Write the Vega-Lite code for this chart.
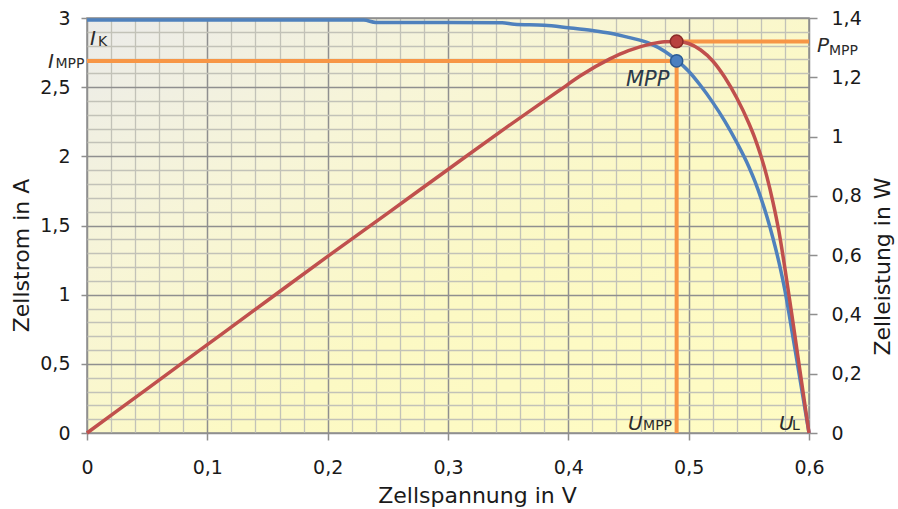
{
  "$schema": "https://vega.github.io/schema/vega-lite/v6.json",
  "width": 722,
  "height": 415,
  "autosize": "none",
  "padding": {"left": 87, "top": 18, "right": 89, "bottom": 76},
  "background": "white",
  "view": {
    "fill": {"gradient": "linear", "x1": 0, "y1": 0, "x2": 1, "y2": 1,
      "stops": [
        {"offset": 0, "color": "#ebebea"},
        {"offset": 0.3, "color": "#f7f5d8"},
        {"offset": 0.6, "color": "#fcf9c4"},
        {"offset": 1, "color": "#fffcc4"}
      ]},
    "stroke": "#8f8f8f",
    "strokeWidth": 1.5
  },
  "datasets": {
    "current": [
      {"u": 0, "i": 2.985}, {"u": 0.1, "i": 2.985}, {"u": 0.2, "i": 2.985}, {"u": 0.23, "i": 2.985},
      {"u": 0.24, "i": 2.968}, {"u": 0.3, "i": 2.968}, {"u": 0.345, "i": 2.966}, {"u": 0.355, "i": 2.955},
      {"u": 0.38, "i": 2.948}, {"u": 0.4, "i": 2.93}, {"u": 0.42, "i": 2.91}, {"u": 0.435, "i": 2.89},
      {"u": 0.45, "i": 2.86}, {"u": 0.468, "i": 2.815}, {"u": 0.48, "i": 2.76}, {"u": 0.49, "i": 2.695},
      {"u": 0.5, "i": 2.615}, {"u": 0.51, "i": 2.51}, {"u": 0.52, "i": 2.39}, {"u": 0.53, "i": 2.255},
      {"u": 0.54, "i": 2.1}, {"u": 0.55, "i": 1.925}, {"u": 0.555, "i": 1.82},
      {"u": 0.56, "i": 1.7}, {"u": 0.565, "i": 1.565}, {"u": 0.57, "i": 1.41}, {"u": 0.575, "i": 1.235},
      {"u": 0.58, "i": 1.03}, {"u": 0.585, "i": 0.78}, {"u": 0.59, "i": 0.52}, {"u": 0.595, "i": 0.26},
      {"u": 0.6, "i": 0}
    ],
    "power": [
      {"u": 0, "p": 0}, {"u": 0.05, "p": 0.149}, {"u": 0.1, "p": 0.298}, {"u": 0.15, "p": 0.447},
      {"u": 0.2, "p": 0.596}, {"u": 0.25, "p": 0.742}, {"u": 0.3, "p": 0.889}, {"u": 0.35, "p": 1.035},
      {"u": 0.393, "p": 1.157}, {"u": 0.41, "p": 1.205}, {"u": 0.4345, "p": 1.262}, {"u": 0.45, "p": 1.29},
      {"u": 0.468, "p": 1.312}, {"u": 0.48, "p": 1.32}, {"u": 0.49, "p": 1.321}, {"u": 0.5, "p": 1.314},
      {"u": 0.51, "p": 1.292}, {"u": 0.52, "p": 1.255}, {"u": 0.53, "p": 1.2}, {"u": 0.54, "p": 1.13},
      {"u": 0.55, "p": 1.045}, {"u": 0.555, "p": 0.995}, {"u": 0.56, "p": 0.935}, {"u": 0.565, "p": 0.865},
      {"u": 0.57, "p": 0.78}, {"u": 0.575, "p": 0.68}, {"u": 0.58, "p": 0.555}, {"u": 0.585, "p": 0.42},
      {"u": 0.59, "p": 0.28}, {"u": 0.595, "p": 0.14}, {"u": 0.6, "p": 0}
    ],
    "mpp": [{"u": 0.49, "i": 2.69, "p": 1.321, "zero": 0, "umax": 0.6}],
    "labels": [
      {"t": "I", "kind": "main", "u": 0.0025, "i": 2.805},
      {"t": "K", "kind": "sub", "u": 0.0091, "i": 2.798},
      {"t": "I", "kind": "main", "u": -0.0324, "i": 2.639},
      {"t": "MPP", "kind": "sub", "u": -0.0262, "i": 2.639},
      {"t": "P", "kind": "main", "u": 0.6067, "i": 2.754},
      {"t": "MPP", "kind": "sub", "u": 0.6166, "i": 2.733},
      {"t": "MPP", "kind": "big", "u": 0.4479, "i": 2.508},
      {"t": "U", "kind": "main", "u": 0.4496, "i": 0.0217},
      {"t": "MPP", "kind": "sub", "u": 0.4621, "i": 0.0217},
      {"t": "U", "kind": "main", "u": 0.5751, "i": 0.0217},
      {"t": "L", "kind": "sub", "u": 0.5859, "i": 0.0217}
    ]
  },
  "encoding": {
    "x": {"field": "u", "type": "quantitative", "scale": {"domain": [0, 0.6], "nice": false},
      "title": "Zellspannung in V",
      "axis": {
        "values": [0,0.02,0.04,0.06,0.08,0.1,0.12,0.14,0.16,0.18,0.2,0.22,0.24,0.26,0.28,0.3,0.32,0.34,0.36,0.38,0.4,0.42,0.44,0.46,0.48,0.5,0.52,0.54,0.56,0.58,0.6],
        "labelExpr": "abs(datum.value*10 - round(datum.value*10)) < 0.001 ? replace(format(datum.value, '.1~f'), '.', ',') : ''",
        "gridColor": {"condition": {"test": "abs(datum.value*10 - round(datum.value*10)) < 0.001", "value": "#8f8f8f"}, "value": "#c2c2b8"},
        "gridWidth": {"condition": {"test": "abs(datum.value*10 - round(datum.value*10)) < 0.001", "value": 1.5}, "value": 1.3},
        "tickOpacity": {"condition": {"test": "abs(datum.value*10 - round(datum.value*10)) < 0.001", "value": 1}, "value": 0},
        "grid": true,
        "tickSize": 7,
        "labelPadding": 18,
        "titlePadding": 8,
        "titleX": 390
      }}
  },
  "layer": [
    {
      "encoding": {
        "y": {"field": "i", "type": "quantitative", "scale": {"domain": [0, 3], "nice": false},
          "title": "Zellstrom in A",
          "axis": {
            "orient": "left",
            "values": [0,0.1,0.2,0.3,0.4,0.5,0.6,0.7,0.8,0.9,1,1.1,1.2,1.3,1.4,1.5,1.6,1.7,1.8,1.9,2,2.1,2.2,2.3,2.4,2.5,2.6,2.7,2.8,2.9,3],
            "labelExpr": "abs(datum.value*2 - round(datum.value*2)) < 0.001 ? replace(format(datum.value, '.1~f'), '.', ',') : ''",
            "gridColor": {"condition": {"test": "abs(datum.value*2 - round(datum.value*2)) < 0.001", "value": "#8f8f8f"}, "value": "#c2c2b8"},
            "gridWidth": {"condition": {"test": "abs(datum.value*2 - round(datum.value*2)) < 0.001", "value": 1.5}, "value": 1.3},
            "tickOpacity": {"condition": {"test": "abs(datum.value*2 - round(datum.value*2)) < 0.001", "value": 1}, "value": 0},
            "grid": true,
            "tickSize": 6,
            "labelPadding": 11,
            "titlePadding": 6,
            "titleY": 237
          }}
      },
      "layer": [
        {
          "data": {"name": "mpp"},
          "mark": {"type": "rule", "color": "#f79646", "strokeWidth": 4},
          "encoding": {"x2": {"field": "zero"}}
        },
        {
          "data": {"name": "mpp"},
          "mark": {"type": "rule", "color": "#f79646", "strokeWidth": 4},
          "encoding": {"y2": {"field": "zero"}}
        },
        {
          "data": {"name": "current"},
          "mark": {"type": "line", "color": "#4f81bd", "strokeWidth": 3.5, "interpolate": "monotone"},
          "encoding": {}
        },
        {
          "data": {"name": "mpp"},
          "mark": {"type": "point", "shape": "circle", "filled": true, "size": 150, "color": "#4a7fc0", "stroke": "#2b5b94", "strokeWidth": 1.5, "opacity": 1},
          "encoding": {}
        },
        {
          "data": {"name": "labels"},
          "transform": [{"filter": "datum.kind == 'main'"}],
          "mark": {"type": "text", "align": "left", "baseline": "alphabetic", "font": "DejaVu Sans", "fontStyle": "italic", "fontSize": 20, "color": "#2b2b2b"},
          "encoding": {"text": {"field": "t", "type": "nominal"}}
        },
        {
          "data": {"name": "labels"},
          "transform": [{"filter": "datum.kind == 'sub'"}],
          "mark": {"type": "text", "align": "left", "baseline": "alphabetic", "font": "DejaVu Sans", "fontSize": 14, "color": "#2b2b2b"},
          "encoding": {"text": {"field": "t", "type": "nominal"}}
        },
        {
          "data": {"name": "labels"},
          "transform": [{"filter": "datum.kind == 'big'"}],
          "mark": {"type": "text", "align": "left", "baseline": "alphabetic", "font": "DejaVu Sans", "fontStyle": "italic", "fontSize": 21, "color": "#2b3a4a"},
          "encoding": {"text": {"field": "t", "type": "nominal"}}
        }
      ]
    },
    {
      "encoding": {
        "y": {"field": "p", "type": "quantitative", "scale": {"domain": [0, 1.4], "nice": false},
          "title": "Zelleistung in W",
          "axis": {
            "orient": "right",
            "values": [0, 0.2, 0.4, 0.6, 0.8, 1, 1.2, 1.4],
            "labelExpr": "replace(format(datum.value, '.1~f'), '.', ',')",
            "grid": false,
            "tickSize": 8,
            "labelPadding": 14,
            "titlePadding": 11,
            "titleAngle": 270,
            "titleBaseline": "top",
            "titleY": 248
          }}
      },
      "layer": [
        {
          "data": {"name": "mpp"},
          "mark": {"type": "rule", "color": "#f79646", "strokeWidth": 4},
          "encoding": {"x2": {"field": "umax"}}
        },
        {
          "data": {"name": "power"},
          "mark": {"type": "line", "color": "#c0504d", "strokeWidth": 3.5, "interpolate": "monotone"},
          "encoding": {}
        },
        {
          "data": {"name": "mpp"},
          "mark": {"type": "point", "shape": "circle", "filled": true, "size": 160, "color": "#b8413e", "stroke": "#8a2a28", "strokeWidth": 1.5, "opacity": 1},
          "encoding": {}
        }
      ]
    }
  ],
  "resolve": {"scale": {"y": "independent"}},
  "config": {
    "font": "DejaVu Sans",
    "axis": {
      "labelFont": "DejaVu Sans",
      "labelFontSize": 19,
      "labelColor": "#1a1a1a",
      "titleFont": "DejaVu Sans",
      "titleFontSize": 22,
      "titleFontWeight": "normal",
      "titleColor": "#1a1a1a",
      "domain": false,
      "tickColor": "#8f8f8f",
      "tickWidth": 1.5,
      "labelOverlap": false,
      "labelFlush": false,
      "labelBound": false
    }
  }
}
